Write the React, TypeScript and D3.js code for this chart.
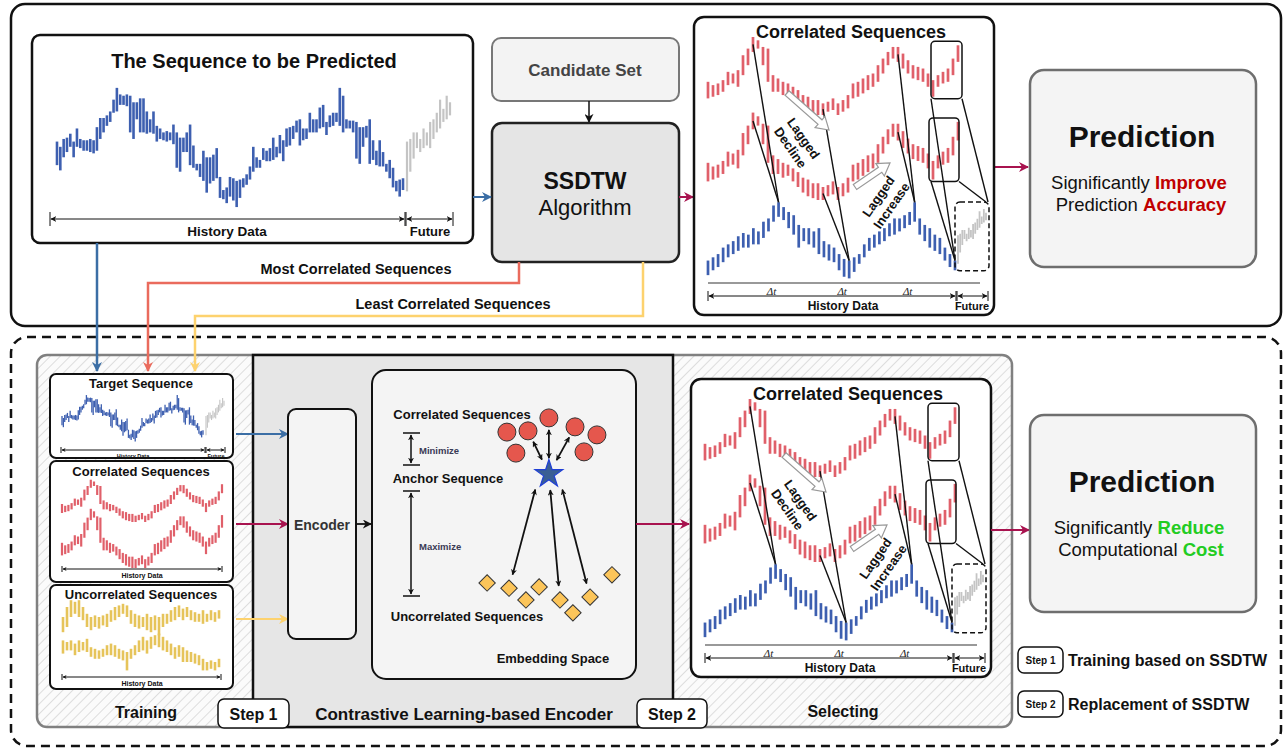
import React from 'react';
import * as d3 from 'd3';

// ---------- DATA ----------
// main (target) sequence: per-bar high / low levels (0-100)
const mainHi = [53,49,55,56,59,53,63,55,54,54,55,54,64,71,71,73,76,85,94,89,88,89,88,83,83,86,86,76,70,76,65,63,60,61,60,66,60,56,56,60,66,50,36,36,46,41,41,43,48,26,16,18,26,25,23,24,25,28,34,49,41,39,48,46,48,56,49,58,54,63,64,65,69,70,63,63,75,70,70,79,81,68,73,75,75,94,88,70,69,69,68,64,64,65,70,54,46,54,45,36,39,33,23,24,25];
const mainLo = [35,31,41,45,49,41,49,48,46,46,45,44,46,55,60,65,68,75,76,81,81,80,60,55,70,60,60,59,60,59,53,55,54,53,54,51,33,30,45,45,35,33,31,26,23,14,21,23,25,10,9,6,11,8,3,10,18,20,24,30,33,33,39,38,38,39,41,44,38,49,50,55,60,50,54,55,60,60,60,63,64,58,64,65,68,65,60,63,63,60,40,36,49,56,36,39,35,34,34,30,25,18,15,11,16];
// future part of the target sequence
const futureHi = [53,55,60,60,55,63,60,68,70,75,85,78,88,83];
const futureLo = [15,30,40,48,45,48,50,48,55,60,63,68,70,73];
// correlated (leading) sequence
const redHi = [40,36,38,42,52,50,54,72,80,94,90,82,80,48,44,40,38,34,30,24,22,18,18,14,16,20,14,18,24,38,40,44,48,50,60,68,76,82,82,74,66,60,58,56,50,42,48,52,56,68,84];
const redLo = [20,22,24,28,36,38,34,48,60,76,80,60,40,28,28,24,26,20,14,8,4,2,0,0,4,6,0,4,8,20,22,26,30,34,40,50,60,68,64,56,50,44,42,40,34,22,34,38,40,48,64];
// lagged target sequence in the correlated panel
const blueHi = [24,28,32,40,44,48,54,58,56,64,60,72,76,92,96,90,84,80,68,64,64,60,64,48,44,40,32,26,24,28,32,44,52,56,60,64,70,76,76,80,84,96,76,68,64,56,52,40,32,24];
const blueLo = [6,12,16,22,28,32,36,40,40,44,44,52,60,72,78,74,64,56,40,48,44,40,32,28,24,22,12,4,2,10,20,28,36,40,44,48,54,56,60,64,68,72,56,48,40,36,32,24,16,12];
// uncorrelated sequences
const yel1Hi = [50,75,92,88,92,75,58,50,54,50,54,58,67,75,79,83,79,67,58,54,50,58,50,54,50,58,58,67,75,79,71,75,67,62,58,67,58,67,62,67];
const yel1Lo = [12,25,50,58,50,42,25,17,25,21,29,25,38,42,50,58,50,33,25,21,25,17,12,17,4,25,33,38,42,50,42,50,42,38,38,33,38,42,38,46];
const yel2Hi = [79,75,79,71,79,75,83,62,58,54,58,67,71,67,58,54,50,58,67,79,88,79,88,92,96,88,79,71,62,67,62,54,50,46,42,33,25,29,25,33];
const yel2Lo = [46,54,54,42,50,54,50,38,33,33,38,42,42,38,33,29,4,33,42,50,54,46,58,67,62,54,50,42,33,38,25,25,25,21,17,4,4,8,4,12];
// lag pairs: [correlated index, target index]
const lagPairs = [[9, 14], [23, 28], [38, 41]];
const futureStartIdx = 45;
// embedding space points (normalised 0-100)
const corrPoints = [[67.0,15.5],[51.1,20.1],[59.1,19.7],[76.9,18.4],[85.2,21.0],[54.5,26.9],[80.3,26.5]];
const anchorPoint = [67.0, 33.7];
const uncorrPoints = [[43.6,68.9],[51.9,70.6],[58.3,74.4],[63.3,70.2],[71.2,74.4],[76.1,78.6],[82.6,73.5],[90.9,66.3]];
const corrArrowTargets = [2, 0, 3];
const uncorrArrowTargets = [1, 4, 6];

// ---------- STYLE ----------
const FONT = "'Liberation Sans', Arial, Helvetica, sans-serif";
const BLUE = '#3d5fb0';
const RED = '#e0606a';
const YEL = '#e6c45a';
const GREY = '#c4c4c4';
const C_BLUE = '#3b6ea5';
const C_RED = '#ea6b5d';
const C_YEL = '#fdd26e';
const C_CRIM = '#a8134f';

function T({ x, y, size = 12, weight = 'bold', fill = '#111', anchor = 'middle', children, style }: any) {
  return (
    <text x={x} y={y} fontSize={size} fontWeight={weight} fill={fill} textAnchor={anchor}
      dominantBaseline="central" fontFamily={FONT} style={style}>{children}</text>
  );
}

function Bars({ hi, lo, x0, x1, yb, yt, color, w }: any) {
  const x = d3.scaleLinear().domain([0, hi.length - 1]).range([x0, x1]);
  const y = d3.scaleLinear().domain([0, 100]).range([yb, yt]);
  return (
    <g>
      {hi.map((h: number, i: number) => (
        <line key={i} x1={x(i)} x2={x(i)} y1={y(h)} y2={y(lo[i])} stroke={color} strokeWidth={w} />
      ))}
    </g>
  );
}

function HollowArrow({ x0, y0, x1, y1 }: any) {
  const L = Math.hypot(x1 - x0, y1 - y0);
  const a = (Math.atan2(y1 - y0, x1 - x0) * 180) / Math.PI;
  const pts = [[0, -3], [L - 12, -3], [L - 12, -7.5], [L, 0], [L - 12, 7.5], [L - 12, 3], [0, 3]];
  return (
    <polygon points={pts.map(p => p.join(',')).join(' ')} transform={`translate(${x0},${y0}) rotate(${a})`}
      fill="#fff" stroke="#999" strokeWidth={1.2} />
  );
}

function Span({ x0, x1, y, tick = 6, m = 'ms' }: any) {
  return (
    <g stroke="#111" strokeWidth={1}>
      <line x1={x0} x2={x0} y1={y - tick} y2={y + tick} />
      <line x1={x1} x2={x1} y1={y - tick} y2={y + tick} />
      <line x1={x0 + 1} x2={x1 - 1} y1={y} y2={y} markerStart={`url(#${m})`} markerEnd={`url(#${m})`} />
    </g>
  );
}

function CorrPanel({ dx, dy }: any) {
  const rx = d3.scaleLinear().domain([0, redHi.length - 1]).range([708, 958]);
  const r1 = d3.scaleLinear().domain([0, 100]).range([115, 32]);
  const r2 = d3.scaleLinear().domain([0, 100]).range([200, 107]);
  const bx = d3.scaleLinear().domain([0, blueHi.length - 1]).range([708, 955]);
  const by = d3.scaleLinear().domain([0, 100]).range([280, 199]);
  const fx = d3.scaleLinear().domain([0, futureHi.length - 1]).range([958, 986]);
  const fy = d3.scaleLinear().domain([0, 100]).range([275, 200]);
  const tailHi = d3.max(redHi.slice(futureStartIdx)) as number;
  const tailLo = d3.min(redLo.slice(futureStartIdx)) as number;
  const bxL = rx(futureStartIdx) - 2, bxR = rx(redHi.length - 1) + 4;
  const b1 = [r1(tailHi) - 4, r1(tailLo) + 2];
  const b2 = [r2(tailHi) - 4, r2(tailLo) + 2];
  const dHi = d3.max(futureHi) as number, dLo = d3.min(futureLo) as number;
  const db = [fx(0) - 3, fy(dHi) - 7, fx(futureHi.length - 1) + 3, fy(dLo) + 7];
  const bEnd = blueHi.length - 1;
  const mid = (h: number[], l: number[], i: number) => (h[i] + l[i]) / 2;
  return (
    <g transform={`translate(${dx},${dy})`}>
      <rect x={694} y={17} width={300} height={298} rx={10} fill="#fff" stroke="#111" strokeWidth={2.5} />
      <T x={851} y={32} size={18}>Correlated Sequences</T>
      <Bars hi={redHi} lo={redLo} x0={708} x1={958} yb={115} yt={32} color={RED} w={2.7} />
      <Bars hi={redHi} lo={redLo} x0={708} x1={958} yb={200} yt={107} color={RED} w={2.7} />
      <Bars hi={blueHi} lo={blueLo} x0={708} x1={955} yb={280} yt={199} color={BLUE} w={2.7} />
      <Bars hi={futureHi} lo={futureLo} x0={958} x1={986} yb={275} yt={200} color={GREY} w={1.8} />
      <g stroke="#111" strokeWidth={1.4}>
        {lagPairs.map(([i, j], k) => (
          <g key={k}>
            <line x1={rx(i)} y1={r1(mid(redHi, redLo, i))} x2={bx(j)} y2={by(blueHi[j])} />
            <line x1={rx(i)} y1={r2(mid(redHi, redLo, i))} x2={bx(j)} y2={by(blueHi[j])} />
          </g>
        ))}
        <line x1={bxL} y1={b1[1]} x2={bx(bEnd)} y2={by(blueHi[bEnd])} />
        <line x1={bxL} y1={b2[1]} x2={bx(bEnd)} y2={by(blueHi[bEnd])} />
        <line x1={bxR} y1={b1[1]} x2={db[2] - 1} y2={db[1]} />
        <line x1={bxR - 3} y1={b2[1]} x2={db[2] - 3} y2={db[1]} />
      </g>
      <rect x={bxL} y={b1[0]} width={bxR - bxL} height={b1[1] - b1[0]} rx={4} fill="none" stroke="#111" strokeWidth={1.5} />
      <rect x={bxL - 2} y={b2[0]} width={bxR - bxL - 1} height={b2[1] - b2[0]} rx={4} fill="none" stroke="#111" strokeWidth={1.5} />
      <rect x={db[0]} y={db[1]} width={db[2] - db[0]} height={db[3] - db[1]} rx={5} fill="none" stroke="#111" strokeWidth={1.5} strokeDasharray="5 3" />
      <HollowArrow x0={787} y0={93} x1={829} y1={130} />
      <HollowArrow x0={855} y0={187} x1={890} y1={163} />
      <g transform="translate(797,143) rotate(55)">
        <T x={0} y={-8} size={13}>Lagged</T>
        <T x={0} y={8} size={13}>Decline</T>
      </g>
      <g transform="translate(885,201) rotate(-55)">
        <T x={0} y={-8} size={13}>Lagged</T>
        <T x={0} y={8} size={13}>Increase</T>
      </g>
      <line x1={708} x2={980} y1={283} y2={283} stroke="#777" strokeWidth={1.3} />
      {lagPairs.map(([, j], k) => (
        <text key={k} x={bx(j) - 7} y={291} fontSize={11} fontStyle="italic" fontFamily="'Liberation Serif', serif"
          textAnchor="middle" dominantBaseline="central" fill="#222">Δt</text>
      ))}
      <Span x0={708} x1={956} y={296} tick={5} />
      <Span x0={957} x1={988} y={296} tick={5} />
      <T x={843} y={306} size={12}>History Data</T>
      <T x={972} y={306} size={11}>Future</T>
    </g>
  );
}

function PredBox({ y, l1a, l1b, l2a, l2b, col }: any) {
  return (
    <g>
      <rect x={1030} y={y} width={226} height={197} rx={14} fill="#f4f4f4" stroke="#6e6e6e" strokeWidth={2.5} />
      <T x={1142} y={y + 66} size={30}>Prediction</T>
      <text x={1139} y={y + 112} fontSize={18.5} fontFamily={FONT} textAnchor="middle" dominantBaseline="central" fill="#111">
        {l1a}<tspan fill={col} fontWeight="bold">{l1b}</tspan>
      </text>
      <text x={1141} y={y + 134} fontSize={18.5} fontFamily={FONT} textAnchor="middle" dominantBaseline="central" fill="#111">
        {l2a}<tspan fill={col} fontWeight="bold">{l2b}</tspan>
      </text>
    </g>
  );
}

function StepBox({ x, y, w, h, size, label }: any) {
  return (
    <g>
      <rect x={x} y={y} width={w} height={h} rx={6} fill="#fff" stroke="#111" strokeWidth={1.5} />
      <T x={x + w / 2} y={y + h / 2 + 0.5} size={size}>{label}</T>
    </g>
  );
}

function Marker({ id, color, size }: any) {
  return (
    <marker id={id} viewBox="0 0 10 10" refX={9} refY={5} markerWidth={size} markerHeight={size}
      markerUnits="userSpaceOnUse" orient="auto-start-reverse">
      <path d="M0,0 L10,5 L0,10 L3,5 z" fill={color} />
    </marker>
  );
}

export default function App() {
  const ex = d3.scaleLinear().domain([0, 100]).range([372, 636]);
  const ey = d3.scaleLinear().domain([0, 100]).range([370, 679]);
  const star = d3.symbol().type(d3.symbolStar).size(240)();
  const ax = ex(anchorPoint[0]), ay = ey(anchorPoint[1]);
  const shorten = (x0: number, y0: number, x1: number, y1: number, a: number, b: number) => {
    const L = Math.hypot(x1 - x0, y1 - y0);
    const ux = (x1 - x0) / L, uy = (y1 - y0) / L;
    return [x0 + ux * a, y0 + uy * a, x1 - ux * b, y1 - uy * b];
  };
  return (
    <svg width={1283} height={750} style={{ position: 'absolute', left: 0, top: 0, background: '#fff' }}>
      <defs>
        <Marker id="mk" color="#111" size={9} />
        <Marker id="ms" color="#111" size={6} />
        <Marker id="mt" color="#111" size={4} />
        <Marker id="mb" color={C_BLUE} size={10} />
        <Marker id="mr" color={C_RED} size={10} />
        <Marker id="my" color={C_YEL} size={10} />
        <Marker id="mc" color={C_CRIM} size={10} />
        <pattern id="hatch" width={7} height={7} patternUnits="userSpaceOnUse" patternTransform="rotate(45)">
          <rect width={7} height={7} fill="#fbfbfb" />
          <line x1={0} y1={0} x2={0} y2={7} stroke="#d6d6d6" strokeWidth={1.6} />
        </pattern>
      </defs>

      {/* ===== TOP SECTION ===== */}
      <rect x={11} y={4} width={1270} height={322} rx={14} fill="#fff" stroke="#111" strokeWidth={2.5} />
      <rect x={32} y={35} width={441} height={208} rx={8} fill="#fff" stroke="#111" strokeWidth={2.5} />
      <T x={254} y={61} size={20}>The Sequence to be Predicted</T>
      <Bars hi={mainHi} lo={mainLo} x0={57} x1={403} yb={211} yt={80} color={BLUE} w={2.6} />
      <Bars hi={futureHi} lo={futureLo} x0={407} x1={450} yb={211} yt={80} color={GREY} w={2.2} />
      <Span x0={50} x1={405} y={219} tick={7} />
      <Span x0={406} x1={453} y={219} tick={7} />
      <T x={227} y={231} size={13.5}>History Data</T>
      <T x={430} y={231} size={13}>Future</T>

      <rect x={492} y={38} width={187} height={63} rx={9} fill="#f3f3f3" stroke="#777" strokeWidth={2} />
      <T x={585} y={70} size={17} fill="#444">Candidate Set</T>
      <line x1={589} y1={101} x2={589} y2={122} stroke="#111" strokeWidth={1.5} markerEnd="url(#mk)" />
      <rect x={492} y={123} width={187} height={139} rx={10} fill="#e5e5e5" stroke="#222" strokeWidth={2.5} />
      <T x={585} y={181} size={23}>SSDTW</T>
      <T x={585} y={207} size={22} weight="normal">Algorithm</T>

      <path d="M473,197 H491" fill="none" stroke={C_BLUE} strokeWidth={2} markerEnd="url(#mb)" />
      <path d="M679,197 H693" fill="none" stroke={C_CRIM} strokeWidth={2} markerEnd="url(#mc)" />
      <path d="M994,167 H1028" fill="none" stroke={C_CRIM} strokeWidth={2} markerEnd="url(#mc)" />

      <CorrPanel dx={0} dy={0} />
      <PredBox y={70} l1a="Significantly " l1b="Improve" l2a="Prediction " l2b="Accuracy" col="#c00000" />

      <T x={356} y={269} size={14.5}>Most Correlated Sequences</T>
      <T x={453} y={304} size={14.5}>Least Correlated Sequences</T>

      {/* ===== BOTTOM SECTION ===== */}
      <rect x={11} y={337} width={1270} height={409} rx={16} fill="none" stroke="#111" strokeWidth={2.5} strokeDasharray="9 6" />
      <rect x={37} y={355} width={975} height={372} rx={10} fill="url(#hatch)" stroke="#808080" strokeWidth={2.5} />
      <rect x={253} y={355} width={420} height={372} fill="#e6e6e6" stroke="#111" strokeWidth={2.5} />

      {/* connectors from top */}
      <path d="M97,243 V371" fill="none" stroke={C_BLUE} strokeWidth={2.5} markerEnd="url(#mb)" />
      <path d="M519,262 V283 H148 V371" fill="none" stroke={C_RED} strokeWidth={2.5} markerEnd="url(#mr)" />
      <path d="M643,262 V316 H195 V371" fill="none" stroke={C_YEL} strokeWidth={2.5} markerEnd="url(#my)" />

      {/* training boxes */}
      <rect x={50} y={374} width={183} height={84} rx={6} fill="#fff" stroke="#111" strokeWidth={2} />
      <T x={141} y={383} size={13}>Target Sequence</T>
      <Bars hi={mainHi} lo={mainLo} x0={62} x1={203} yb={443} yt={392} color={BLUE} w={1.3} />
      <Bars hi={futureHi} lo={futureLo} x0={206} x1={224} yb={443} yt={392} color={GREY} w={1.1} />
      <Span x0={61} x1={205} y={450} tick={3} m="mt" />
      <Span x0={206} x1={225} y={450} tick={3} m="mt" />
      <T x={133} y={456} size={5.5}>History Data</T>
      <T x={216} y={456} size={5.5}>Future</T>

      <rect x={50} y={461} width={183} height={121} rx={6} fill="#fff" stroke="#111" strokeWidth={2} />
      <T x={141} y={471} size={13}>Correlated Sequences</T>
      <Bars hi={redHi} lo={redLo} x0={62} x1={222} yb={522} yt={477} color={RED} w={2.2} />
      <Bars hi={redHi} lo={redLo} x0={62} x1={222} yb={568} yt={505} color={RED} w={2.2} />
      <Span x0={62} x1={222} y={569} tick={3} m="mt" />
      <T x={142} y={575} size={7}>History Data</T>

      <rect x={50} y={585} width={183} height={104} rx={6} fill="#fff" stroke="#111" strokeWidth={2} />
      <T x={141} y={594} size={13}>Uncorrelated Sequences</T>
      <Bars hi={yel1Hi} lo={yel1Lo} x0={63} x1={219} yb={637} yt={597} color={YEL} w={2.6} />
      <Bars hi={yel2Hi} lo={yel2Lo} x0={63} x1={219} yb={672} yt={632} color={YEL} w={2.6} />
      <Span x0={62} x1={221} y={677} tick={3} m="mt" />
      <T x={142} y={683} size={7}>History Data</T>

      <T x={146} y={712} size={16}>Training</T>
      <StepBox x={218} y={699} w={71} h={29} size={16} label="Step 1" />
      <T x={464} y={714} size={17}>Contrastive Learning-based Encoder</T>
      <StepBox x={637} y={699} w={70} h={29} size={16} label="Step 2" />
      <T x={843} y={711} size={16}>Selecting</T>

      {/* encoder */}
      <path d="M236,434 H288" fill="none" stroke={C_BLUE} strokeWidth={2} markerEnd="url(#mb)" />
      <path d="M236,524 H288" fill="none" stroke={C_CRIM} strokeWidth={2} markerEnd="url(#mc)" />
      <path d="M236,619 H288" fill="none" stroke={C_YEL} strokeWidth={2} markerEnd="url(#my)" />
      <rect x={288} y={409} width={68} height={230} rx={8} fill="#f4f4f4" stroke="#111" strokeWidth={2} />
      <T x={322} y={525} size={14} fill="#333">Encoder</T>
      <path d="M356,524 H371" fill="none" stroke="#111" strokeWidth={1.8} markerEnd="url(#mk)" />

      {/* embedding space */}
      <rect x={372} y={370} width={264} height={309} rx={14} fill="#f4f4f4" stroke="#111" strokeWidth={2} />
      <T x={462} y={414} size={13}>Correlated Sequences</T>
      <T x={448} y={478} size={13}>Anchor Sequence</T>
      <T x={467} y={616} size={13}>Uncorrelated Sequences</T>
      <T x={553} y={658} size={13}>Embedding Space</T>
      <g stroke="#111" strokeWidth={1.5}>
        <line x1={403} x2={420} y1={433} y2={433} />
        <line x1={403} x2={420} y1={465} y2={465} />
        <line x1={411} x2={411} y1={435} y2={463} markerStart="url(#ms)" markerEnd="url(#ms)" />
        <line x1={403} x2={420} y1={491} y2={491} />
        <line x1={403} x2={420} y1={596} y2={596} />
        <line x1={411} x2={411} y1={493} y2={594} markerStart="url(#ms)" markerEnd="url(#ms)" />
      </g>
      <T x={419} y={450} size={9.5} anchor="start" fill="#3a3a55">Minimize</T>
      <T x={419} y={546} size={9.5} anchor="start" fill="#3a3a55">Maximize</T>
      {corrPoints.map(([px, py], i) => (
        <circle key={i} cx={ex(px)} cy={ey(py)} r={9} fill="#e5574d" stroke="#333" strokeWidth={1} />
      ))}
      {uncorrPoints.map(([px, py], i) => (
        <rect key={i} x={ex(px) - 5.8} y={ey(py) - 5.8} width={11.6} height={11.6}
          transform={`rotate(45 ${ex(px)} ${ey(py)})`} fill="#fcc55a" stroke="#333" strokeWidth={1} />
      ))}
      <g stroke="#111" strokeWidth={1.8}>
        {corrArrowTargets.map((t, k) => {
          const [x0, y0, x1, y1] = shorten(ax, ay, ex(corrPoints[t][0]), ey(corrPoints[t][1]), 16, 12);
          return <line key={k} x1={x0} y1={y0} x2={x1} y2={y1} markerStart="url(#ms)" markerEnd="url(#ms)" />;
        })}
        {uncorrArrowTargets.map((t, k) => {
          const sx = ax + (k - 1) * 9.5;
          const [x0, y0, x1, y1] = shorten(sx, ay, ex(uncorrPoints[t][0]), ey(uncorrPoints[t][1]), 16, 14);
          return <line key={k} x1={x0} y1={y0} x2={x1} y2={y1} markerStart="url(#ms)" markerEnd="url(#ms)" />;
        })}
      </g>
      <path d={star || ''} transform={`translate(${ax},${ay})`} fill="#3a5f94" stroke="#1f3fd6" strokeWidth={1.2} />

      <path d="M636,524 H689" fill="none" stroke={C_CRIM} strokeWidth={2} markerEnd="url(#mc)" />
      <CorrPanel dx={-3} dy={362} />
      <path d="M991,530 H1029" fill="none" stroke={C_CRIM} strokeWidth={2} markerEnd="url(#mc)" />
      <PredBox y={415} l1a="Significantly " l1b="Reduce" l2a="Computational " l2b="Cost" col="#22cc22" />

      <StepBox x={1018} y={647} w={45} h={26} size={10} label="Step 1" />
      <T x={1068} y={660} size={16} anchor="start">Training based on SSDTW</T>
      <StepBox x={1018} y={691} w={45} h={26} size={10} label="Step 2" />
      <T x={1068} y={704} size={16} anchor="start">Replacement of SSDTW</T>
    </svg>
  );
}
